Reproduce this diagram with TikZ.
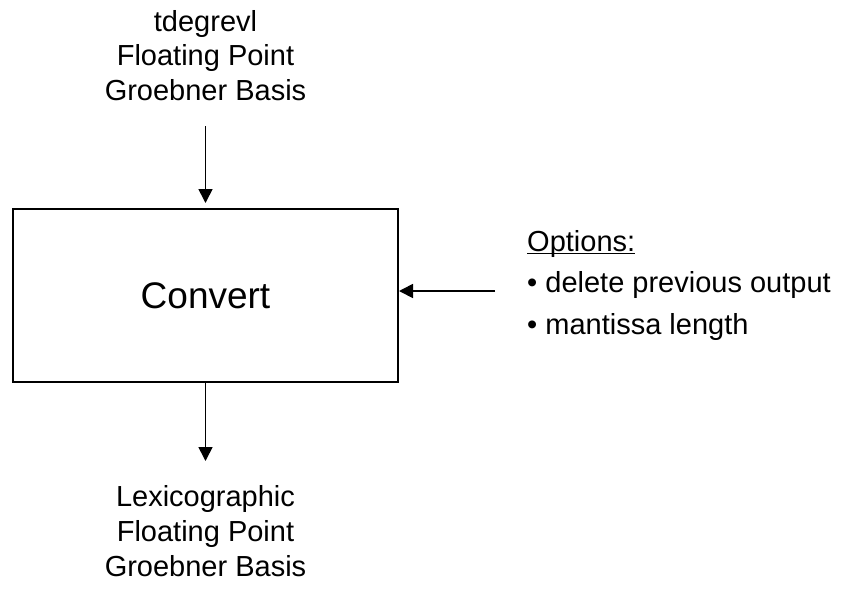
\documentclass[tikz,border=0pt]{standalone}
\usepackage{fontspec}
\setmainfont{Liberation Sans}
\usetikzlibrary{arrows.meta}
\begin{document}
\begin{tikzpicture}[x=1pt,y=-1pt,
  txt/.style={anchor=base,inner sep=0pt,font=\fontsize{29}{34}\selectfont},
  lefttxt/.style={anchor=base west,inner sep=0pt,font=\fontsize{29}{34}\selectfont},
  procbox/.style={draw,line width=2pt,minimum width=385pt,minimum height=173pt,
    inner sep=0pt,font=\fontsize{37}{44}\selectfont},
  flow/.style={line width=1.7pt,-{Triangle[length=14pt,width=14pt]}}]
\useasboundingbox (0,0) rectangle (841,595);

% input description
\node[txt] (in1) at (205.5,31) {tdegrevl};
\node[txt] (in2) at (205.5,65.5) {Floating Point};
\node[txt] (in3) at (205.5,100) {Groebner Basis};
\coordinate (inarrow) at (205.5,126);

% conversion step
\node[procbox] (conv) at (205.5,295.5) {Convert};

% output description
\coordinate (outarrow) at (205.5,461);
\node[txt] (out1) at (205.5,506) {Lexicographic};
\node[txt] (out2) at (205.5,541) {Floating Point};
\node[txt] (out3) at (205.5,576.5) {Groebner Basis};

% options list
\node[lefttxt] (opt) at (527,251) {Options:};
\draw[line width=1.4pt] ([yshift=-2.5pt]opt.base west) -- ([yshift=-2.5pt]opt.base east);
\node[lefttxt] (opt1) at (527,292) {\textbullet\ delete previous output};
\node[lefttxt] (opt2) at (527,334) {\textbullet\ mantissa length};
\coordinate (optarrow) at (495,291);

% connectors
\draw[flow,shorten >=5pt] (inarrow) -- (conv.north);
\draw[flow] (conv.south) -- (outarrow);
\draw[flow] (optarrow) -- (optarrow -| conv.east);
\end{tikzpicture}
\end{document}
